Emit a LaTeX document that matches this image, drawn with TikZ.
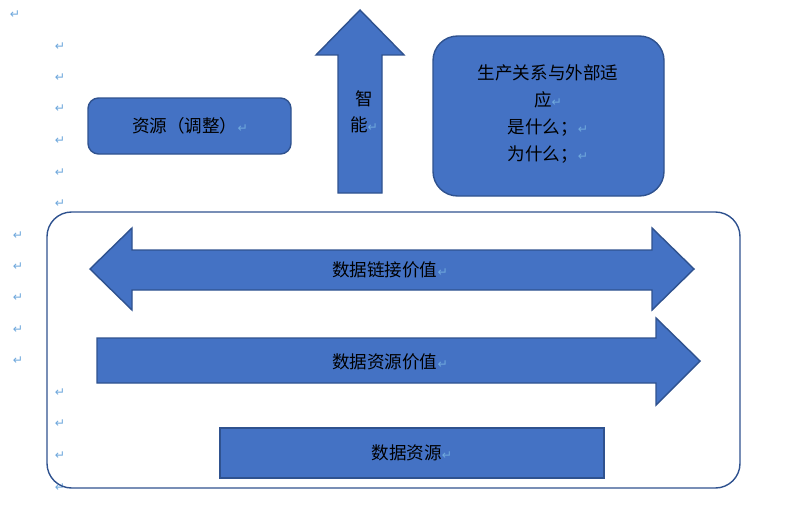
\documentclass[tikz,border=0pt]{standalone}
\usepackage{fontspec}
\setmainfont{Noto Sans CJK SC}
\newfontfamily\symfont{DejaVu Sans}
\definecolor{boxfill}{HTML}{4472C4}
\definecolor{boxline}{HTML}{2F528F}
\definecolor{markblue}{HTML}{6FA8DC}
\newcommand{\ret}{{\symfont\color{markblue}\fontsize{7}{8}\selectfont ↵}}
\begin{document}
\begin{tikzpicture}[x=0.02cm, y=-0.02cm,
  blue shape/.style={fill=boxfill, draw=boxline, line width=0.8pt},
  label/.style={font=\fontsize{10}{15}\selectfont, text=black, align=center},
  para mark/.style={inner sep=0pt}]

\useasboundingbox (0,0) rectangle (800,510);

% paragraph marks
\node[para mark] (m0) at (15,15) {\ret};
\foreach \y [count=\i] in {47,78,109,141,173,204}
  \node[para mark] (ma\i) at (60,\y) {\ret};
\foreach \y [count=\i] in {236,267,298,330,361}
  \node[para mark] (mb\i) at (18,\y) {\ret};
\foreach \y [count=\i] in {393,424,456,488}
  \node[para mark] (mc\i) at (60,\y) {\ret};

% outer frame
\draw[boxline, line width=0.8pt, rounded corners=14] (47,212) rectangle (740,488);

% double arrow
\draw[blue shape] (90,269) -- (132,228) -- (132,250) -- (652,250) -- (652,228)
  -- (694,269) -- (652,310) -- (652,290) -- (132,290) -- (132,310) -- cycle;
\node[label] (link) at (390,270) {数据链接价值\ret};

% single arrow
\draw[blue shape] (97,338) -- (656,338) -- (656,318) -- (700,361) -- (656,405)
  -- (656,383) -- (97,383) -- cycle;
\node[label] (value) at (390,362) {数据资源价值\ret};

% data resource
\draw[blue shape] (220,428) rectangle (604,478);
\node[label] (data) at (412,453) {数据资源\ret};

% resource box
\draw[blue shape, rounded corners=6] (88,98) rectangle (291,154);
\node[label] (res) at (190,126) {资源（调整）\ret};

% up arrow
\draw[blue shape] (360,10) -- (404,55) -- (382,55) -- (382,193) -- (338,193)
  -- (338,55) -- (316,55) -- cycle;
\node[label] (smart) at (364,112) {智\\能\ret};

% relation box
\draw[blue shape, rounded corners=14] (433,36) rectangle (664,196);
\node[label, font=\fontsize{10}{15.5}\selectfont] (rel) at (548,114)
  {生产关系与外部适\\应\ret\\是什么；\ret\\为什么；\ret};

\end{tikzpicture}
\end{document}
